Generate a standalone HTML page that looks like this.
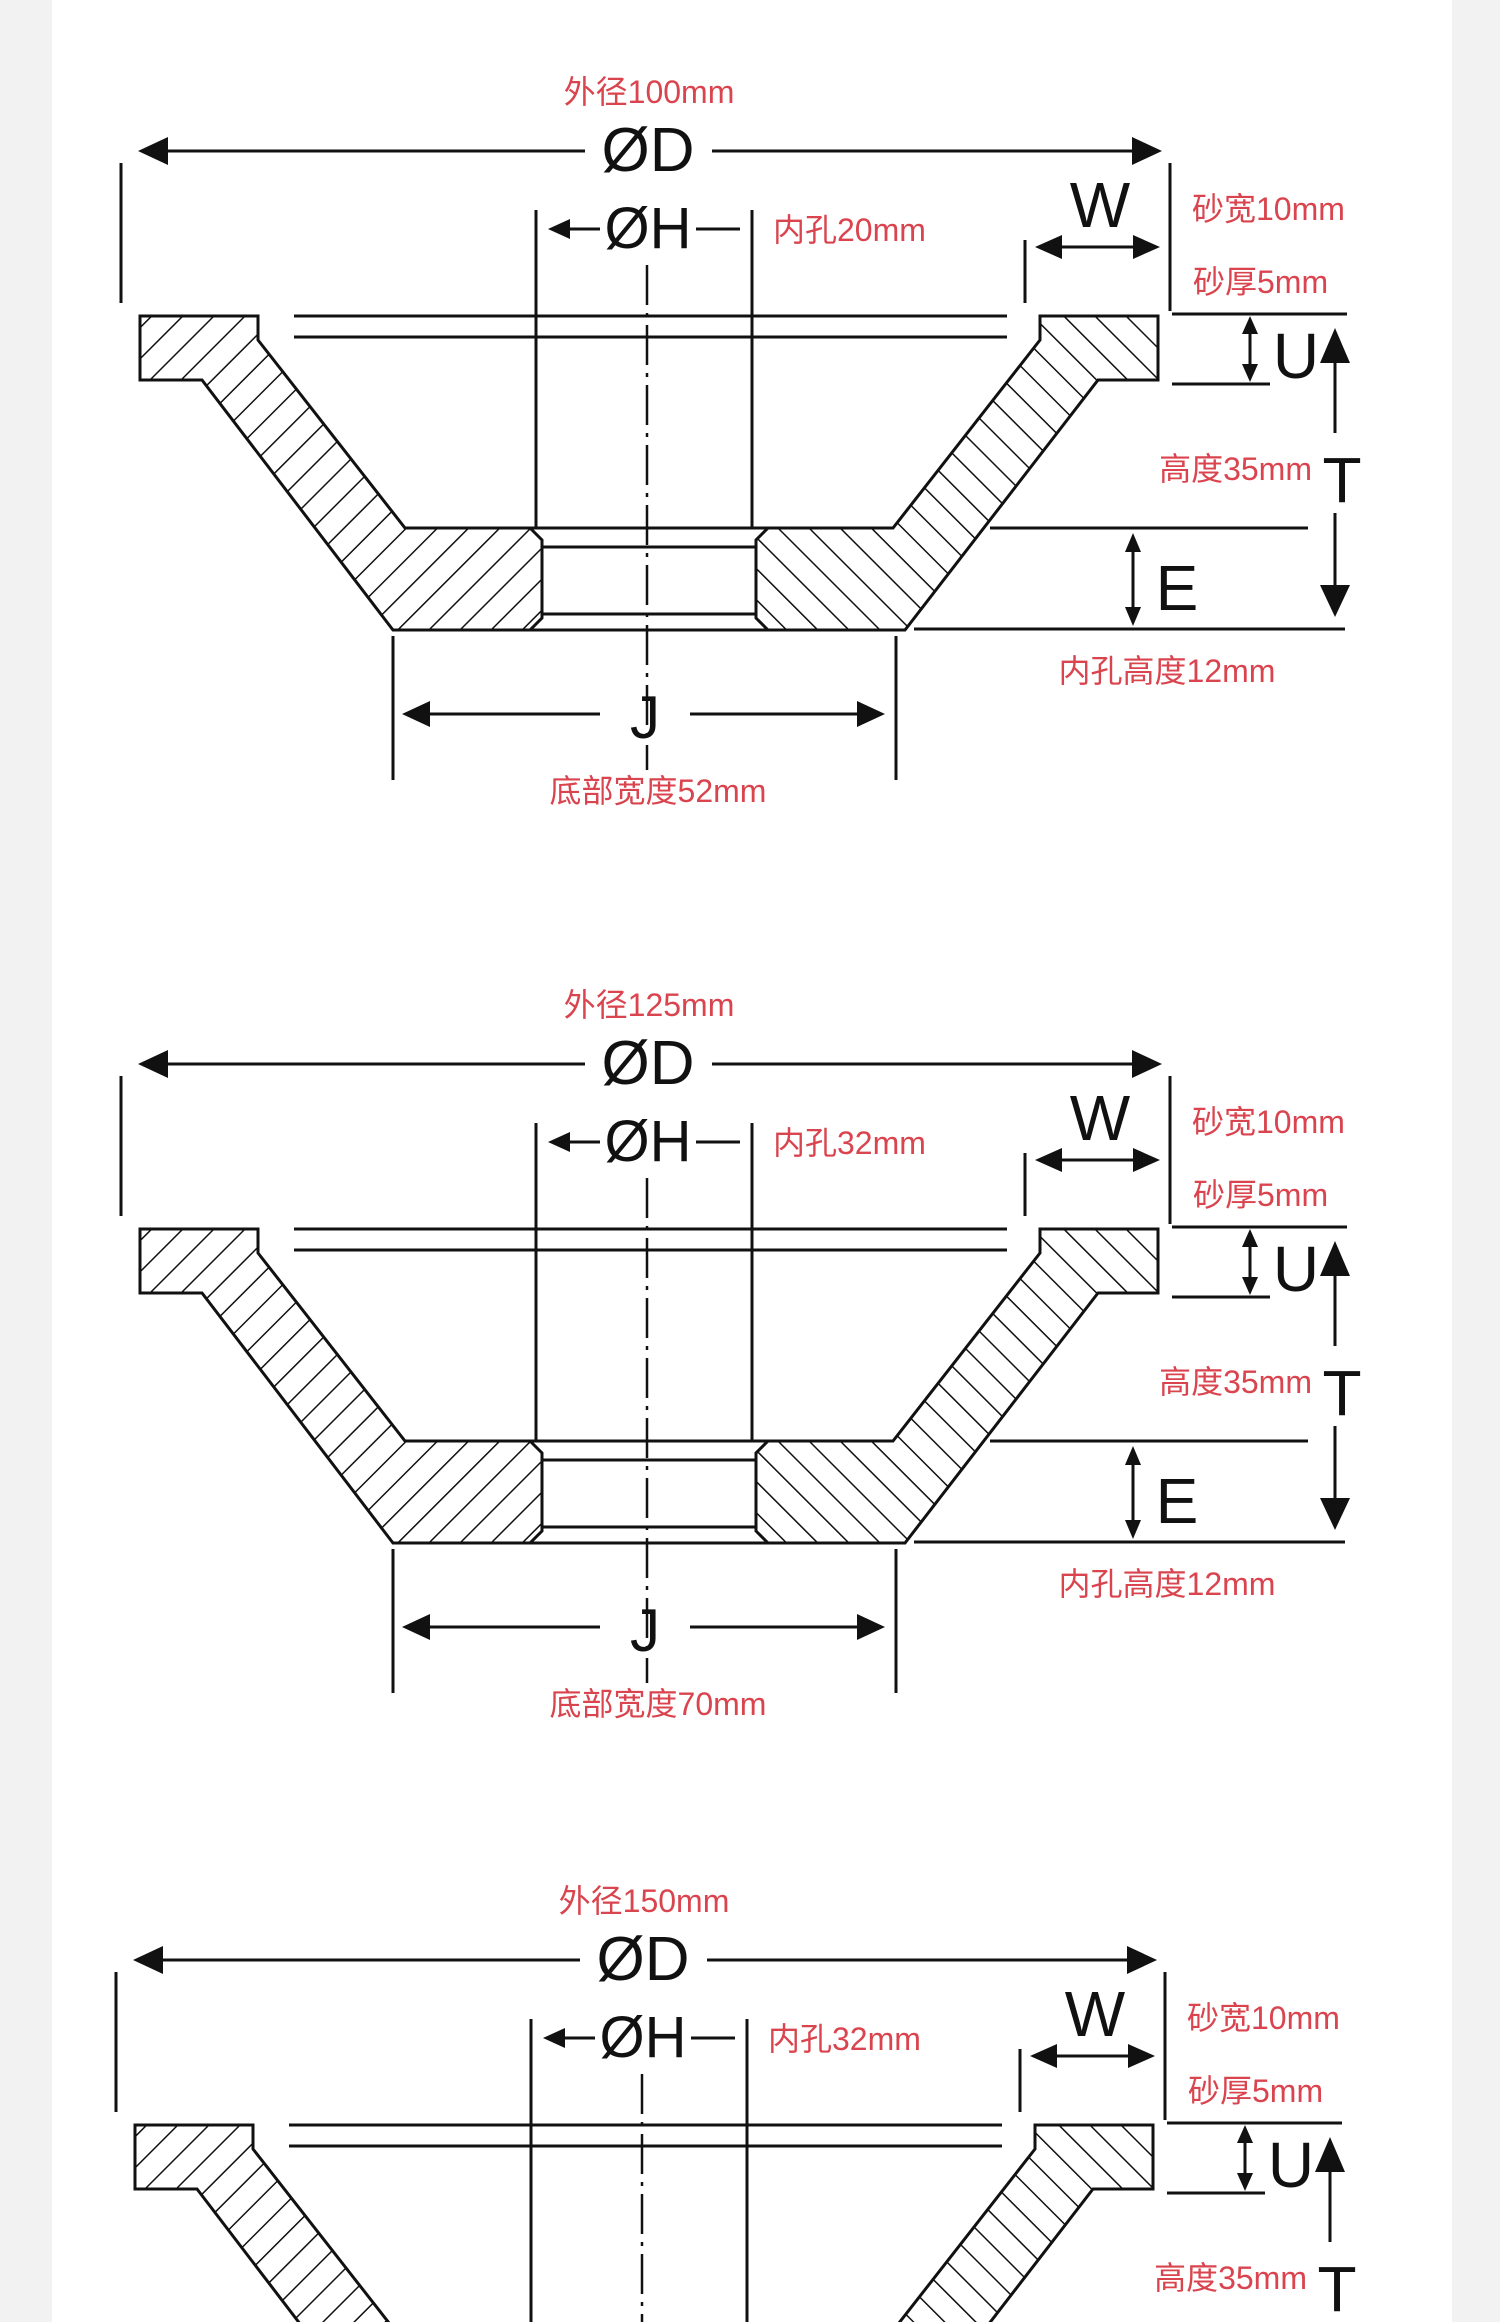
<!DOCTYPE html>
<html><head><meta charset="utf-8"><style>
html,body{margin:0;padding:0;background:#fff;width:1500px;height:2322px;overflow:hidden}
svg{display:block}
.r{font-family:"Liberation Sans","Noto Sans CJK SC",sans-serif;font-size:32px;fill:#d9444e}
.b{font-family:"Liberation Sans",sans-serif;fill:#111}
</style></head><body>
<svg width="1500" height="2322" viewBox="0 0 1500 2322" xmlns="http://www.w3.org/2000/svg">
<defs>
<pattern id="hl" patternUnits="userSpaceOnUse" width="22" height="22" patternTransform="rotate(45)">
<line x1="0" y1="0" x2="0" y2="22" stroke="#111" stroke-width="3"/></pattern>
<pattern id="hr" patternUnits="userSpaceOnUse" width="22" height="22" patternTransform="rotate(-45)">
<line x1="0" y1="0" x2="0" y2="22" stroke="#111" stroke-width="3"/></pattern>
<g id="shape" stroke="#111" stroke-width="3" fill="none">
<path d="M140,316 L258,316 L258,340 L405,528 L530,528 L542,540 L542,618 L530,630 L393,630 L202,380 L140,380 Z" fill="url(#hl)"/>
<path d="M1158,316 L1040,316 L1040,340 L893,528 L768,528 L756,540 L756,618 L768,630 L905,630 L1098,380 L1158,380 Z" fill="url(#hr)"/>
<line x1="530" y1="630" x2="768" y2="630"/>
<line x1="530" y1="528" x2="768" y2="528"/>
<line x1="542" y1="547" x2="756" y2="547"/>
<line x1="542" y1="614" x2="756" y2="614"/>
<line x1="294" y1="316" x2="1007" y2="316"/>
<line x1="294" y1="337" x2="1007" y2="337"/>
<line x1="536" y1="210" x2="536" y2="528"/>
<line x1="752" y1="210" x2="752" y2="528"/>
<line x1="647" y1="265" x2="647" y2="770" stroke-width="2.5" stroke-dasharray="40,8,4,8"/>
<line x1="121" y1="163" x2="121" y2="303"/>
<line x1="1170" y1="163" x2="1170" y2="311"/>
<line x1="160" y1="151" x2="585" y2="151"/>
<line x1="712" y1="151" x2="1140" y2="151"/>
<line x1="565" y1="229" x2="600" y2="229"/>
<line x1="696" y1="229" x2="740" y2="229"/>
<line x1="1025" y1="240" x2="1025" y2="303"/>
<line x1="1055" y1="247" x2="1140" y2="247"/>
<line x1="1172" y1="314" x2="1347" y2="314"/>
<line x1="1172" y1="384" x2="1270" y2="384"/>
<line x1="1250" y1="330" x2="1250" y2="368"/>
<line x1="1335" y1="355" x2="1335" y2="433"/>
<line x1="1335" y1="513" x2="1335" y2="595"/>
<line x1="990" y1="528" x2="1308" y2="528"/>
<line x1="914" y1="629" x2="1345" y2="629"/>
<line x1="1133" y1="548" x2="1133" y2="612"/>
<line x1="393" y1="636" x2="393" y2="780"/>
<line x1="896" y1="636" x2="896" y2="780"/>
<line x1="425" y1="714" x2="600" y2="714"/>
<line x1="690" y1="714" x2="862" y2="714"/>
</g>
<g id="heads" fill="#111">
<path d="M138,151 L168,137 L168,165 Z"/>
<path d="M1162,151 L1132,137 L1132,165 Z"/>
<path d="M548,229 L570,219 L570,239 Z"/>
<path d="M1035,247 L1062,235 L1062,259 Z"/>
<path d="M1160,247 L1133,235 L1133,259 Z"/>
<path d="M1250,316 L1242,334 L1258,334 Z"/>
<path d="M1250,382 L1242,364 L1258,364 Z"/>
<path d="M1335,328 L1320,363 L1350,363 Z"/>
<path d="M1335,617 L1320,585 L1350,585 Z"/>
<path d="M1133,533 L1125,552 L1141,552 Z"/>
<path d="M1133,626 L1125,607 L1141,607 Z"/>
<path d="M402,714 L430,701 L430,727 Z"/>
<path d="M885,714 L857,701 L857,727 Z"/>
</g>
<g id="letters" class="b">
<text x="648" y="171" font-size="62" text-anchor="middle">ØD</text>
<text x="648" y="248" font-size="58" text-anchor="middle">ØH</text>
<text x="1100" y="227" font-size="64" text-anchor="middle">W</text>
<text x="1296" y="378" font-size="64" text-anchor="middle">U</text>
<text x="1342" y="502" font-size="64" text-anchor="middle">T</text>
<text x="1177" y="610" font-size="64" text-anchor="middle">E</text>
<text x="645" y="738" font-size="60" text-anchor="middle">J</text>
</g>
</defs>
<rect x="0" y="0" width="52" height="2322" fill="#f2f2f2"/>
<rect x="1452" y="0" width="48" height="2322" fill="#f2f2f2"/>

<g>
<use href="#shape"/><use href="#heads"/><use href="#letters"/>
<text class="r" x="649" y="103" text-anchor="middle">外径100mm</text>
<text class="r" x="773" y="241">内孔20mm</text>
<text class="r" x="1192" y="220">砂宽10mm</text>
<text class="r" x="1193" y="293">砂厚5mm</text>
<text class="r" x="1312" y="480" text-anchor="end">高度35mm</text>
<text class="r" x="1167" y="682" text-anchor="middle">内孔高度12mm</text>
<text class="r" x="658" y="802" text-anchor="middle">底部宽度52mm</text>
</g>
<g transform="translate(0,913)">
<use href="#shape"/><use href="#heads"/><use href="#letters"/>
<text class="r" x="649" y="103" text-anchor="middle">外径125mm</text>
<text class="r" x="773" y="241">内孔32mm</text>
<text class="r" x="1192" y="220">砂宽10mm</text>
<text class="r" x="1193" y="293">砂厚5mm</text>
<text class="r" x="1312" y="480" text-anchor="end">高度35mm</text>
<text class="r" x="1167" y="682" text-anchor="middle">内孔高度12mm</text>
<text class="r" x="658" y="802" text-anchor="middle">底部宽度70mm</text>
</g>
<g transform="translate(-5,1809)">
<use href="#shape"/><use href="#heads"/><use href="#letters"/>
<text class="r" x="649" y="103" text-anchor="middle">外径150mm</text>
<text class="r" x="773" y="241">内孔32mm</text>
<text class="r" x="1192" y="220">砂宽10mm</text>
<text class="r" x="1193" y="293">砂厚5mm</text>
<text class="r" x="1312" y="480" text-anchor="end">高度35mm</text>
</g>
</svg>
</body></html>
